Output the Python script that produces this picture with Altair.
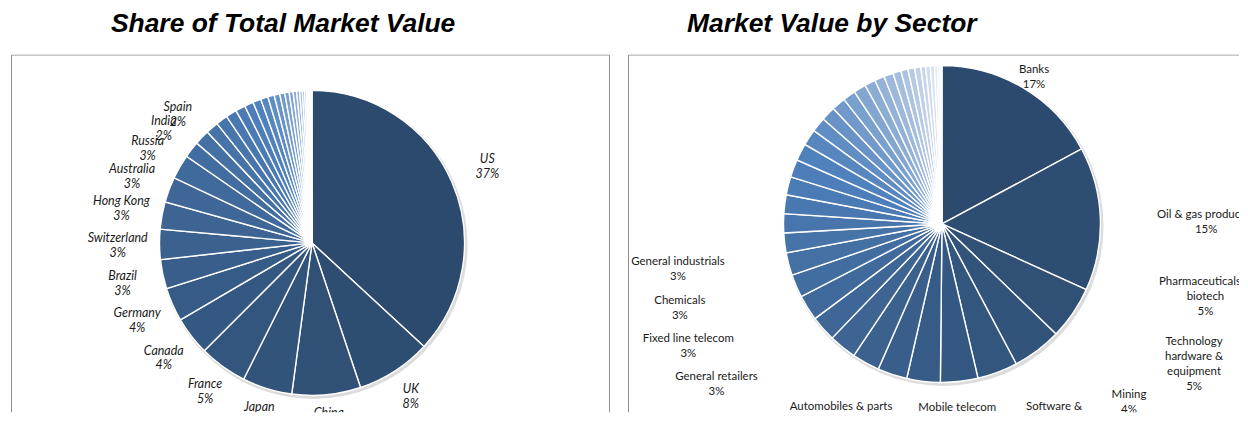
import math
import altair as alt
import pandas as pd

# ---------------- data ----------------
countries = ["US", "UK", "China", "Japan", "France", "Canada", "Germany", "Brazil",
             "Switzerland", "Hong Kong", "Australia", "Russia", "India", "Spain",
             "South Korea", "Taiwan", "Netherlands", "Sweden", "Italy", "Mexico",
             "Singapore", "South Africa", "Saudi Arabia", "Denmark", "Belgium", "Finland",
             "Norway", "Malaysia", "Indonesia", "Chile", "Israel", "Thailand", "Ireland",
             "Colombia", "Portugal", "Austria"]
country_values = [37.0, 8.0, 7.3, 5.3, 5.1, 4.1, 3.6, 3.1, 3.2, 2.9, 2.7, 2.6, 1.75, 1.6,
                  1.35, 1.25, 1.15, 1.05, 0.95, 0.87, 0.78, 0.68, 0.6, 0.53, 0.47, 0.42,
                  0.37, 0.32, 0.28, 0.24, 0.2, 0.17, 0.14, 0.11, 0.09, 0.07]
countries_labelled = 14

sectors = ["Banks", "Oil & gas producers", "Pharmaceuticals & biotech",
           "Technology hardware & equipment", "Mining", "Software & computer svs",
           "Mobile telecom", "Automobiles & parts", "General retailers", "Fixed line telecom",
           "Chemicals", "General industrials",
           "Life insurance", "Beverages", "Electricity", "Food producers", "Industrial metals",
           "Tobacco", "Media", "Support services", "Real estate", "Aerospace & defence",
           "Gas, water & multiutilities", "Construction & materials", "Travel & leisure",
           "Personal goods", "Food & drug retailers", "Industrial engineering",
           "Nonlife insurance", "Household goods", "Health care equipment",
           "Electronic & electrical equipment", "General financial",
           "Oil equipment & services", "Industrial transportation", "Forestry & paper",
           "Leisure goods", "Equity investment instruments", "Alternative energy"]
sector_values = [17.1, 14.6, 5.4, 5.0, 4.1, 3.8, 3.4, 3.0, 2.8, 2.8, 2.6, 2.6,
                 2.35, 2.3, 2.0, 1.95, 1.9, 1.85, 1.8, 1.75, 1.65, 1.5, 1.45, 1.4, 1.3,
                 1.25, 1.1, 1.0, 0.95, 0.82, 0.72, 0.68, 0.62, 0.5, 0.47, 0.42, 0.3, 0.25, 0.2]
sectors_labelled = 12
sector_wrapped = {
    "Pharmaceuticals & biotech": "Pharmaceuticals &\nbiotech",
    "Technology hardware & equipment": "Technology\nhardware &\nequipment",
    "Software & computer svs": "Software &\ncomputer svs",
}

# ---------------- styling ----------------
DARK, BASE, LIGHT = "#2C4A6E", "#4F81BD", "#F2F5FA"
FRAME = "#8c8c8c"
TITLE_FONT = "Liberation Sans"
LABEL_FONT = "Lato"
LINE_H = 15


def label_path(phi, rx, ry_top, ry_bot, p):
    """Distance from the pie centre to a label centre along direction phi
    (clockwise from 12 o'clock), on a super-ellipse of exponent p."""
    s, c = math.sin(phi), math.cos(phi)
    ry = ry_top if c > 0 else ry_bot
    t = (abs(s / rx) ** p + abs(c / ry) ** p) ** (-1.0 / p)
    return t * s, -t * c


def build(names, values, n_lab, wrap, path, spread, char_w, pad_w, pad_h):
    total = sum(values)
    mids, cum = [], 0.0
    for v in values:
        mids.append(2 * math.pi * (cum + v / 2) / total)
        cum += v
    texts = []
    for i in range(n_lab):
        t = wrap.get(names[i], names[i]) + "\n" + f"{round(100 * values[i] / total)}%"
        texts.append(t)
    widths = [max(len(s) for s in t.split("\n")) * char_w + pad_w for t in texts]
    heights = [len(t.split("\n")) * LINE_H + pad_h for t in texts]
    ang = mids[:n_lab]
    if spread:
        step = 0.002
        for _ in range(6000):
            moved = False
            for i in range(n_lab - 1):
                x1, y1 = path(ang[i])
                x2, y2 = path(ang[i + 1])
                ox = (widths[i] + widths[i + 1]) / 2 - abs(x1 - x2)
                oy = (heights[i] + heights[i + 1]) / 2 - abs(y1 - y2)
                if ox > 0 and oy > 0:
                    ang[i] -= step
                    ang[i + 1] += step
                    moved = True
            if not moved:
                break
    pts = [path(a) for a in ang]
    arcs = pd.DataFrame({"name": names, "value": values, "idx": list(range(len(names)))})
    labels = pd.DataFrame({
        "label": texts,
        "ox": [q[0] for q in pts],
        "oy": [q[1] for q in pts],
    })
    return arcs, labels


def panel(names, values, n_lab, wrap, title, title_dx, w, h, cx, cy, r, path, ly_shift,
          spread, italic, font_size, char_w, pad_w, pad_h, frame_right):
    arcs, labels = build(names, values, n_lab, wrap, path, spread, char_w, pad_w, pad_h)
    n = len(names)
    one = alt.Data(values=[{"k": 1}])
    frame = alt.Chart(one).mark_rect(
        filled=False, stroke=FRAME, strokeWidth=1, clip=True
    ).encode(
        x=alt.value(0.5), x2=alt.value(w - 0.5 if frame_right else w + 20),
        y=alt.value(0.5), y2=alt.value(h + 20),
    )
    shadow = alt.Chart(one).mark_arc(
        outerRadius=r + 1.5, theta=0, theta2=2 * math.pi, color="#9a9a9a", opacity=0.35
    ).encode(x=alt.value(cx + 1.5), y=alt.value(cy + 2))
    pie = alt.Chart(arcs).mark_arc(outerRadius=r, stroke="white", strokeWidth=1.4).encode(
        theta=alt.Theta("value:Q", stack=True),
        order=alt.Order("idx:Q", sort="ascending"),
        color=alt.Color("idx:Q", legend=None,
                        scale=alt.Scale(domain=[0, (n - 1) / 2, n - 1],
                                        range=[DARK, BASE, LIGHT], interpolate="rgb")),
        x=alt.value(cx), y=alt.value(cy),
        tooltip=["name:N", "value:Q"],
    )
    txt = alt.Chart(labels).mark_text(
        font=LABEL_FONT, fontSize=font_size, lineBreak="\n", lineHeight=LINE_H,
        align="center", baseline="middle", color="#1a1a1a", clip=True,
        fontStyle="italic" if italic else "normal",
    ).transform_calculate(
        px=f"datum.ox + {cx}", py=f"datum.oy + {cy + ly_shift}"
    ).encode(
        x=alt.X("px:Q", scale=None, axis=None),
        y=alt.Y("py:Q", scale=None, axis=None),
        text="label:N",
    )
    return alt.layer(frame, shadow, pie, txt).properties(
        width=w, height=h,
        title=alt.TitleParams(title, font=TITLE_FONT, fontSize=26.5, fontWeight="bold",
                              fontStyle="italic", color="black", anchor="middle",
                              frame="group", dx=title_dx, offset=17),
    )


H = 359
left = panel(countries, country_values, countries_labelled, {},
             "Share of Total Market Value", -27.5, 601, H,
             302, 189, 153,
             lambda a: label_path(a, 195, 178, 178, 2), -7,
             False, True, 12.5, 6.2, 4, 2, True)
right = panel(sectors, sector_values, sectors_labelled, sector_wrapped,
              "Market Value by Sector", -102, 613, H,
              315, 170, 159,
              lambda a: label_path(a, 265, 155, 185, 4), 0,
              True, False, 11.5, 5.6, 24, 8, False)

chart = alt.hconcat(left, right, spacing=16).properties(
    padding={"left": 2, "top": 2, "right": 0, "bottom": 0}
).configure_view(stroke="transparent")

chart.save("out.html", embed_options={"renderer": "svg", "actions": False})
